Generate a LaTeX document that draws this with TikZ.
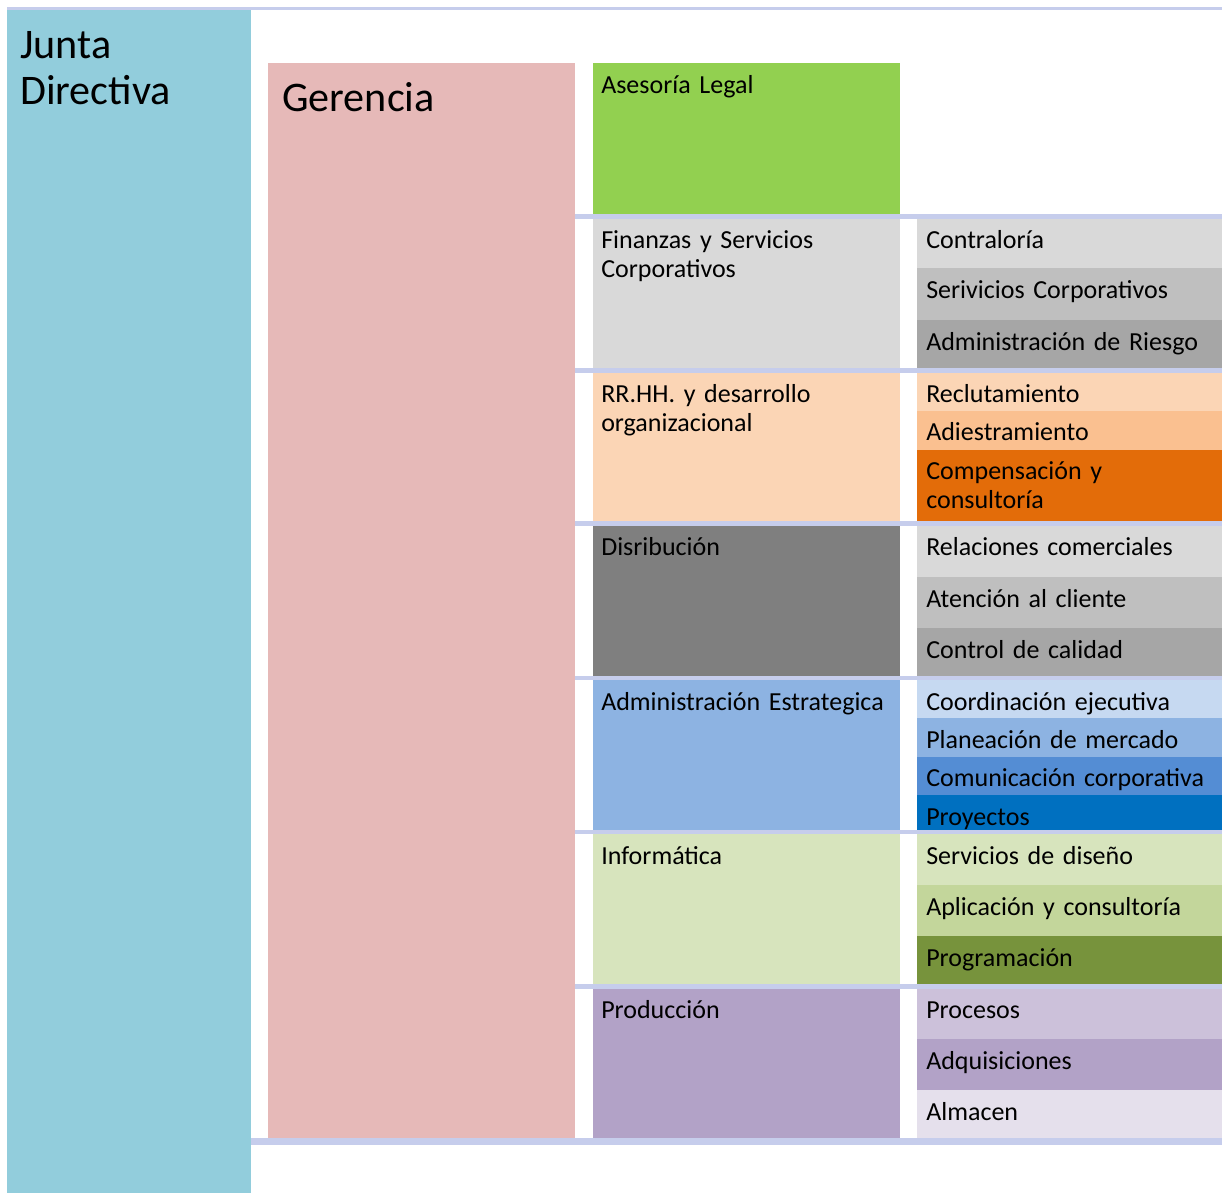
\documentclass[tikz,border=0pt]{standalone}
\usepackage{fontspec}
\setmainfont{Carlito}
\definecolor{sepline}{HTML}{C6CDEC}
\definecolor{junta}{HTML}{92CDDC}
\definecolor{gerencia}{HTML}{E6B9B8}
\definecolor{legal}{HTML}{92D050}
\definecolor{gris1}{HTML}{D9D9D9}
\definecolor{gris2}{HTML}{BFBFBF}
\definecolor{gris3}{HTML}{A6A6A6}
\definecolor{gris4}{HTML}{7F7F7F}
\definecolor{naranja1}{HTML}{FBD5B5}
\definecolor{naranja2}{HTML}{FAC090}
\definecolor{naranja3}{HTML}{E36C09}
\definecolor{azul1}{HTML}{C6D9F1}
\definecolor{azul2}{HTML}{8DB3E2}
\definecolor{azul3}{HTML}{548DD4}
\definecolor{azul4}{HTML}{0070C0}
\definecolor{verde1}{HTML}{D7E4BD}
\definecolor{verde2}{HTML}{C3D69B}
\definecolor{verde3}{HTML}{77933C}
\definecolor{lila1}{HTML}{CCC1DA}
\definecolor{lila2}{HTML}{B2A2C7}
\definecolor{lila3}{HTML}{E5E0EC}
\begin{document}
\begin{tikzpicture}[
  x=0.75pt, y=-0.75pt,
  every node/.style={inner sep=0pt, anchor=base west, align=left, text width=8cm,
    font=\fontsize{19.5}{22}\selectfont},
  big/.style={font=\fontsize{31.6}{35}\selectfont},
  sep/.style={draw=sepline, line width=3.6pt}
]
\useasboundingbox (0,0) rectangle (1222,1193);
\fill[junta] (7,9) rectangle (251,1193);
\node[big] (junta) at (20,58) {Junta\\Directiva};
\fill[gerencia] (268,63) rectangle (575,1138);
\node[big] (gerencia) at (282,111) {Gerencia};
\foreach \top/\bot/\col/\name/\txt in {
    63/214/legal/legal/Asesoría Legal,
    218/368/gris1/finanzas/Finanzas y Servicios\\Corporativos,
    372/521/naranja1/rrhh/RR.HH. y desarrollo\\organizacional,
    525/676/gris4/distribucion/Disribución,
    680/830/azul2/estrategica/Administración Estrategica,
    834/984/verde1/informatica/Informática,
    988/1138/lila2/produccion/Producción} {
  \fill[\col] (593,\top) rectangle (900,\bot);
  \node (\name) at (601,\top+30) {\txt};
}
\foreach \top/\bot/\col/\txt [count=\i] in {
    218/268/gris1/Contraloría,
    268/320/gris2/Serivicios Corporativos,
    320/368/gris3/Administración de Riesgo,
    372/410.5/naranja1/Reclutamiento,
    410.5/449.5/naranja2/Adiestramiento,
    449.5/521/naranja3/Compensación y\\consultoría,
    525/577/gris1/Relaciones comerciales,
    577/628/gris2/Atención al cliente,
    628/676/gris3/Control de calidad,
    680/718/azul1/Coordinación ejecutiva,
    718/756.5/azul2/Planeación de mercado,
    756.5/795/azul3/Comunicación corporativa,
    795/830/azul4/Proyectos,
    834/885/verde1/Servicios de diseño,
    885/936/verde2/Aplicación y consultoría,
    936/984/verde3/Programación,
    988/1039/lila1/Procesos,
    1039/1090/lila2/Adquisiciones,
    1090/1138/lila3/Almacen} {
  \fill[\col] (917,\top) rectangle (1222,\bot);
  \node (area\i) at (926,\top+30) {\txt};
}
\foreach \y in {216.5,370.5,523.5,678,832,986.5}
  \draw[sep] (575,\y) -- (1222,\y);
\draw[sepline, line width=2.2pt] (7,8.3) -- (1222,8.3);
\draw[sepline, line width=4.6pt] (251,1141.5) -- (1222,1141.5);
\end{tikzpicture}
\end{document}
